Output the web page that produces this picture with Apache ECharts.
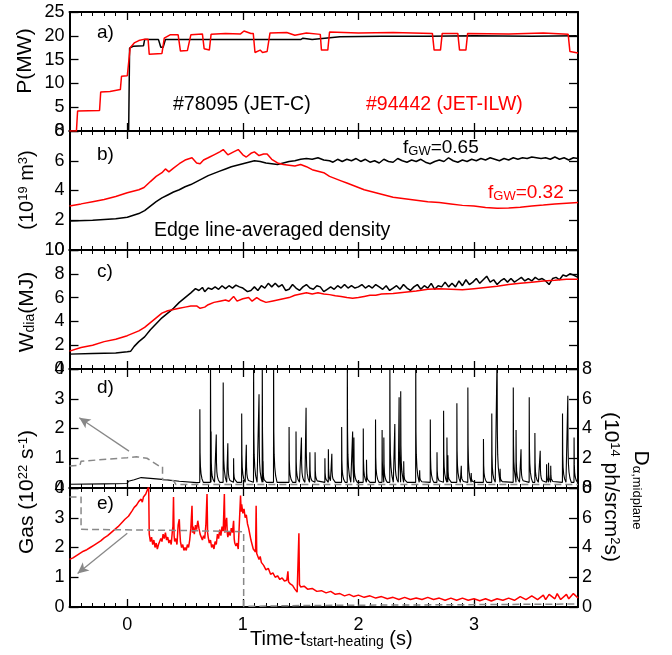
<!DOCTYPE html>
<html><head><meta charset="utf-8">
<script src="https://cdn.jsdelivr.net/npm/echarts@6/dist/echarts.min.js"></script>
<style>html,body{margin:0;padding:0;background:#fff}#c{width:672px;height:655px}</style>
</head><body><div id="c"></div>
<script>
const FONT = '"Liberation Sans", Arial, Helvetica, sans-serif';
const X_MIN = -0.5, X_MAX = 3.9;
const xTickLabels = [0, 1, 2, 3];
const xMinorTicks = [];
for (let k = -4; k <= 39; k++) { if (k % 10 !== 0) xMinorTicks.push(+(k / 10).toFixed(1)); }

// a) heating power P (MW)
const powerJETC = [[-0.5,0],[0.012,0],[0.02,17.4],[0.05,17.8],[0.14,17.9],[0.15,19.2],[0.27,19.2],[0.29,17.6],[0.31,17.6],[0.33,19.2],[0.8,19.2],[1.2,19.2],[1.5,19.2],[1.52,19.5],[1.53,19.2],[1.6,19.2],[1.84,19.8],[2.2,19.9],[2.6,19.9],[3.0,20.0],[3.5,19.9],[3.89,20.0]];
const powerJETILW = [[-0.5,0],[-0.44,0],[-0.43,4.2],[-0.24,4.3],[-0.23,8.2],[-0.15,8.3],[-0.14,8.7],[-0.06,8.7],[-0.05,11.5],[0.0,11.6],[0.025,17.5],[0.06,18.5],[0.1,19.0],[0.15,19.3],[0.18,19.3],[0.19,16.1],[0.3,16.3],[0.32,19.5],[0.37,20.2],[0.44,20.2],[0.46,16.8],[0.52,16.9],[0.55,20.2],[0.65,20.4],[0.665,17.3],[0.71,17.0],[0.725,20.3],[0.85,20.5],[0.98,20.4],[1.01,21.0],[1.07,20.5],[1.09,20.5],[1.105,16.5],[1.15,17.0],[1.17,16.5],[1.21,16.7],[1.235,20.6],[1.38,20.7],[1.45,20.1],[1.55,20.6],[1.67,20.3],[1.68,17.0],[1.735,17.0],[1.75,20.8],[2.0,20.6],[2.3,20.7],[2.64,20.5],[2.655,17.0],[2.71,17.0],[2.725,20.5],[2.86,20.5],[2.875,17.0],[2.93,17.0],[2.945,20.5],[3.3,20.4],[3.6,20.6],[3.815,20.3],[3.83,16.7],[3.9,16.4]];

// b) edge line-averaged density (1e19 m^-3)
const densJETC = [[-0.5,1.95],[-0.3,2.0],[-0.1,2.1],[0.0,2.2],[0.1,2.45],[0.15,2.65],[0.2,2.95],[0.25,3.25],[0.3,3.5],[0.35,3.7],[0.4,3.9],[0.45,4.05],[0.5,4.25],[0.55,4.4],[0.6,4.6],[0.65,4.8],[0.7,5.0],[0.75,5.15],[0.8,5.3],[0.85,5.45],[0.9,5.6],[0.95,5.7],[1.0,5.8],[1.05,5.9],[1.1,6.0],[1.15,5.95],[1.2,5.85],[1.25,5.8],[1.3,5.75],[1.35,5.85],[1.4,5.95],[1.45,6.0],[1.5,6.1],[1.55,6.15],[1.6,6.1],[1.65,6.2],[1.7,6.05],[1.75,6.0],[1.78,5.9],[1.82,6.1],[1.86,5.95],[1.9,6.1],[1.94,6.0],[1.98,6.15],[2.02,5.95],[2.06,6.1],[2.1,5.9],[2.14,6.0],[2.18,5.85],[2.22,6.1],[2.26,5.95],[2.3,5.9],[2.34,6.15],[2.38,6.0],[2.42,5.9],[2.46,6.05],[2.5,5.95],[2.54,6.1],[2.58,5.9],[2.62,5.8],[2.66,5.95],[2.7,6.05],[2.74,5.95],[2.78,6.2],[2.82,6.0],[2.86,5.9],[2.9,6.05],[2.94,5.95],[2.98,6.1],[3.02,6.0],[3.06,6.15],[3.1,6.05],[3.14,6.2],[3.18,6.1],[3.22,6.0],[3.26,6.15],[3.3,6.05],[3.34,6.2],[3.38,6.1],[3.42,6.2],[3.46,6.15],[3.5,6.25],[3.54,6.2],[3.58,6.15],[3.62,6.2],[3.66,6.1],[3.7,6.25],[3.74,6.1],[3.78,6.2],[3.82,6.05],[3.86,6.2],[3.9,6.15]];
const densJETILW = [[-0.5,2.96],[-0.4,3.1],[-0.3,3.25],[-0.2,3.4],[-0.1,3.6],[0.0,3.85],[0.1,4.05],[0.145,4.2],[0.2,4.6],[0.25,4.95],[0.3,5.2],[0.33,5.45],[0.36,5.25],[0.4,5.5],[0.45,5.8],[0.5,6.05],[0.56,6.2],[0.6,5.85],[0.63,5.8],[0.66,6.05],[0.7,6.2],[0.75,6.4],[0.8,6.6],[0.83,6.75],[0.87,6.4],[0.92,6.6],[0.96,6.75],[1.0,6.4],[1.03,6.25],[1.07,6.5],[1.1,6.6],[1.14,6.35],[1.18,6.45],[1.21,6.45],[1.25,6.1],[1.3,5.85],[1.35,5.75],[1.4,5.7],[1.45,5.65],[1.5,5.75],[1.55,5.6],[1.6,5.4],[1.65,5.3],[1.7,5.2],[1.75,4.95],[1.8,4.8],[1.85,4.65],[1.9,4.5],[1.95,4.35],[2.0,4.2],[2.05,4.05],[2.1,3.95],[2.15,3.85],[2.2,3.75],[2.25,3.65],[2.3,3.55],[2.4,3.45],[2.5,3.35],[2.6,3.25],[2.7,3.2],[2.8,3.1],[2.9,3.0],[3.0,2.95],[3.1,2.85],[3.2,2.8],[3.3,2.82],[3.4,2.88],[3.5,2.95],[3.6,3.02],[3.7,3.1],[3.8,3.15],[3.9,3.2]];

// c) diamagnetic energy W_dia (MJ)
const wdiaJETC = [[-0.5,1.25],[-0.3,1.3],[-0.1,1.35],[0.0,1.45],[0.03,1.5],[0.06,1.9],[0.1,2.3],[0.15,2.7],[0.2,3.3],[0.25,3.8],[0.3,4.3],[0.35,4.7],[0.4,5.1],[0.45,5.6],[0.5,6.0],[0.55,6.4],[0.59,6.75],[0.62,6.6],[0.65,6.85],[0.67,6.5],[0.7,6.8],[0.73,6.7],[0.76,6.9],[0.79,6.7],[0.82,7.0],[0.85,6.75],[0.88,7.0],[0.91,6.8],[0.94,7.05],[0.97,6.9],[1.0,6.8],[1.04,6.5],[1.07,6.6],[1.1,6.9],[1.13,6.6],[1.16,7.0],[1.19,6.8],[1.22,7.2],[1.25,6.9],[1.28,7.2],[1.31,6.9],[1.34,7.1],[1.37,6.6],[1.4,6.7],[1.43,7.1],[1.46,6.8],[1.49,6.6],[1.52,6.9],[1.55,7.1],[1.58,6.8],[1.61,6.7],[1.64,7.0],[1.67,6.9],[1.7,6.5],[1.73,6.7],[1.76,6.9],[1.79,6.7],[1.82,7.0],[1.85,6.8],[1.88,7.1],[1.91,6.8],[1.94,7.0],[1.97,6.8],[2.0,6.9],[2.03,7.1],[2.06,6.8],[2.09,7.0],[2.12,6.8],[2.15,7.1],[2.18,6.9],[2.21,6.7],[2.24,7.0],[2.27,6.6],[2.3,6.8],[2.33,7.0],[2.36,6.7],[2.39,7.1],[2.42,6.8],[2.45,6.6],[2.48,6.9],[2.51,7.1],[2.54,6.7],[2.57,7.0],[2.6,6.8],[2.63,7.2],[2.66,6.7],[2.69,7.0],[2.72,6.9],[2.75,7.3],[2.78,6.9],[2.81,7.2],[2.84,6.9],[2.87,7.4],[2.9,7.0],[2.93,7.5],[2.96,7.1],[2.99,7.3],[3.02,7.6],[3.05,7.2],[3.08,7.5],[3.11,7.8],[3.14,7.3],[3.17,7.5],[3.2,7.1],[3.23,7.4],[3.26,7.6],[3.29,7.3],[3.32,7.6],[3.35,7.3],[3.38,7.5],[3.41,7.7],[3.44,7.4],[3.47,7.6],[3.5,7.4],[3.53,7.7],[3.56,7.5],[3.59,7.6],[3.62,7.4],[3.65,7.1],[3.68,7.6],[3.71,7.7],[3.74,7.5],[3.77,7.9],[3.8,7.8],[3.83,8.0],[3.86,7.9],[3.9,7.7]];
const wdiaJETILW = [[-0.5,1.5],[-0.4,1.8],[-0.3,2.0],[-0.2,2.3],[-0.1,2.5],[0.0,2.8],[0.1,3.2],[0.15,3.5],[0.2,3.9],[0.25,4.3],[0.3,4.7],[0.35,4.9],[0.4,5.0],[0.45,5.1],[0.5,5.2],[0.55,5.3],[0.6,5.3],[0.63,5.1],[0.67,5.2],[0.7,5.4],[0.75,5.6],[0.8,5.7],[0.85,5.8],[0.88,5.7],[0.92,6.1],[0.95,5.7],[1.0,5.9],[1.05,6.0],[1.08,5.7],[1.12,6.0],[1.15,5.8],[1.2,5.6],[1.25,5.7],[1.3,5.8],[1.35,5.9],[1.4,6.0],[1.45,6.2],[1.5,6.3],[1.55,6.4],[1.6,6.3],[1.65,6.4],[1.7,6.3],[1.75,6.25],[1.8,6.15],[1.85,6.1],[1.9,6.0],[1.95,5.95],[2.0,6.0],[2.05,6.1],[2.1,6.2],[2.15,6.2],[2.2,6.3],[2.3,6.35],[2.4,6.45],[2.5,6.55],[2.6,6.7],[2.7,6.75],[2.8,6.7],[2.9,6.65],[3.0,6.75],[3.1,6.85],[3.2,6.95],[3.3,7.1],[3.4,7.2],[3.5,7.3],[3.6,7.4],[3.7,7.45],[3.8,7.55],[3.9,7.55]];

// d) JET-C: gas rate (1e22/s, left) and D-alpha (1e14, right)
const gasJETC = [[-0.5,0.74],[-0.41,0.76],[-0.4,0.9],[0.0,1.02],[0.08,1.05],[0.17,1.0],[0.28,0.73],[0.305,0.72],[0.305,0.28],[0.4,0.25],[0.42,0.12],[1.5,0.12],[3.9,0.12]];
const dalphaJETCPre = [[-0.5,0.25],[-0.2,0.28],[0.0,0.3],[0.01,0.45],[0.06,0.55],[0.12,0.7],[0.2,0.65],[0.3,0.58],[0.45,0.45],[0.6,0.36]];
const elmTimes = [0.628,0.72,0.725,0.77,0.83,0.87,0.92,0.99,1.03,1.093,1.14,1.168,1.175,1.266,1.40,1.46,1.507,1.547,1.58,1.625,1.71,1.74,1.77,1.855,1.904,1.95,1.961,2.042,2.07,2.148,2.205,2.22,2.272,2.315,2.352,2.366,2.392,2.496,2.53,2.622,2.68,2.737,2.766,2.774,2.852,2.89,2.947,2.976,3.082,3.154,3.2,3.226,3.34,3.364,3.407,3.478,3.527,3.573,3.628,3.645,3.664,3.766,3.812,3.866];
const elmPeaks = [5.3,9,3.8,3.6,7.1,3.0,2.0,5.0,2.9,9,6.3,9,1.8,9,4.1,3.8,3.4,5.4,2.4,2.4,2.0,2.6,2.3,4.1,9,3.8,3.4,4.0,1.9,4.6,3.9,3.4,9,4.3,6.1,6.5,1.8,9,1.2,4.6,2.4,5.2,3.4,2.2,5.7,1.5,6.75,1.0,3.3,5.0,9,1.3,6.75,3.9,2.6,6.1,3.7,2.5,1.6,1.7,1.5,5.0,6.2,3.4];
const elmBase = 0.38;
const elmDecayOffsets = [0.002, 0.005, 0.01, 0.018, 0.03];
const elmDecayFractions = [0.4, 0.22, 0.12, 0.05, 0.0];

// e) JET-ILW: gas rate (left) and D-alpha (right)
const gasJETILW = [[-0.5,3.7],[-0.4,3.7],[-0.4,2.61],[0.5,2.57],[1.007,2.53],[1.007,0.02],[1.5,0.05],[3.0,0.08],[3.9,0.1]];
const dalphaJETILW = [[-0.5,3.2],[-0.47,3.3],[-0.44,3.45],[-0.41,3.6],[-0.38,3.75],[-0.35,3.85],[-0.32,4.0],[-0.29,4.15],[-0.26,4.3],[-0.23,4.45],[-0.2,4.65],[-0.17,4.8],[-0.14,5.0],[-0.11,5.2],[-0.08,5.4],[-0.05,5.65],[-0.02,5.9],[0.01,6.1],[0.04,6.45],[0.06,6.7],[0.08,6.85],[0.1,7.1],[0.12,7.25],[0.13,7.05],[0.14,7.4],[0.15,7.3],[0.16,7.6],[0.17,7.8],[0.18,7.9],[0.185,8.1],[0.19,4.9],[0.2,4.4],[0.21,4.7],[0.22,4.2],[0.23,4.5],[0.24,4.0],[0.25,4.3],[0.26,3.9],[0.27,4.2],[0.28,4.1],[0.29,4.6],[0.3,4.4],[0.31,4.9],[0.32,4.6],[0.33,5.0],[0.34,4.5],[0.35,4.7],[0.36,4.3],[0.37,4.5],[0.38,4.2],[0.39,5.1],[0.395,5.4],[0.4,7.4],[0.405,4.8],[0.41,4.4],[0.42,4.6],[0.43,4.2],[0.44,5.5],[0.45,5.9],[0.455,5.0],[0.46,4.4],[0.47,4.0],[0.48,4.2],[0.49,3.8],[0.5,4.0],[0.51,3.8],[0.52,4.2],[0.53,4.0],[0.54,4.5],[0.55,5.3],[0.56,6.8],[0.565,5.0],[0.57,5.4],[0.58,4.9],[0.59,5.5],[0.6,5.2],[0.61,5.8],[0.62,5.3],[0.63,4.9],[0.64,5.0],[0.65,4.5],[0.66,4.8],[0.67,4.6],[0.68,5.5],[0.69,7.6],[0.695,5.0],[0.7,4.7],[0.71,4.3],[0.72,4.5],[0.73,4.0],[0.74,4.2],[0.75,3.9],[0.76,4.4],[0.77,4.2],[0.78,4.9],[0.79,4.6],[0.8,5.2],[0.81,4.8],[0.82,5.4],[0.83,5.1],[0.84,7.6],[0.845,5.0],[0.85,5.5],[0.86,6.0],[0.865,5.0],[0.87,4.7],[0.88,5.1],[0.89,4.8],[0.9,5.3],[0.91,5.0],[0.92,5.8],[0.925,4.6],[0.93,4.3],[0.94,4.1],[0.95,4.3],[0.96,3.9],[0.97,4.0],[0.975,3.8],[0.98,7.5],[0.985,6.4],[0.99,6.9],[1.0,6.3],[1.01,6.6],[1.02,6.0],[1.03,6.2],[1.04,5.6],[1.05,5.3],[1.06,4.9],[1.07,4.5],[1.08,4.2],[1.09,3.9],[1.1,4.0],[1.11,3.7],[1.115,6.8],[1.12,3.6],[1.13,3.5],[1.14,3.2],[1.15,3.4],[1.16,3.0],[1.17,3.1],[1.18,2.8],[1.19,2.9],[1.2,2.5],[1.22,2.6],[1.24,2.2],[1.26,2.3],[1.28,2.0],[1.3,2.1],[1.32,1.85],[1.34,1.95],[1.36,1.75],[1.38,1.8],[1.39,2.4],[1.395,1.7],[1.41,1.55],[1.43,1.45],[1.45,1.2],[1.47,1.0],[1.48,0.9],[1.485,4.95],[1.49,1.5],[1.5,1.35],[1.53,1.4],[1.56,1.2],[1.6,1.25],[1.64,1.05],[1.68,1.1],[1.72,0.95],[1.76,1.05],[1.8,0.85],[1.84,0.9],[1.88,0.75],[1.92,0.85],[1.96,0.7],[2.0,0.8],[2.05,0.65],[2.1,0.75],[2.15,0.6],[2.2,0.7],[2.25,0.55],[2.3,0.65],[2.35,0.5],[2.4,0.65],[2.45,0.5],[2.5,0.6],[2.55,0.5],[2.6,0.65],[2.65,0.5],[2.7,0.6],[2.75,0.45],[2.8,0.6],[2.85,0.45],[2.9,0.6],[2.95,0.45],[3.0,0.55],[3.05,0.42],[3.1,0.55],[3.15,0.4],[3.2,0.55],[3.25,0.45],[3.3,0.6],[3.35,0.45],[3.4,0.7],[3.45,0.5],[3.5,0.75],[3.55,0.5],[3.6,0.8],[3.62,0.5],[3.65,0.85],[3.7,0.55],[3.72,0.9],[3.75,0.5],[3.8,0.85],[3.82,0.55],[3.86,0.9],[3.9,0.6]];

// annotation arrows (data coords, left axis units): [from, to]
const arrowD = [[0.015,1.24],[-0.415,2.36]];
const arrowE = [[0.0,2.48],[-0.43,1.13]];

// build D-alpha ELM trace for JET-C from read spike times/peaks
const dalphaJETC = dalphaJETCPre.slice();
for (let i = 0; i < elmTimes.length; i++) {
  const t = elmTimes[i], p = elmPeaks[i];
  const next = i + 1 < elmTimes.length ? elmTimes[i + 1] : X_MAX + 1;
  dalphaJETC.push([t - 0.0008, elmBase]);
  dalphaJETC.push([t, p]);
  for (let k = 0; k < elmDecayOffsets.length; k++) {
    const tt = t + elmDecayOffsets[k];
    if (tt < next - 0.0012) dalphaJETC.push([tt, elmBase + (p - elmBase) * elmDecayFractions[k]]);
  }
}

const GRID_TOPS = [12, 131, 250, 369, 488], GH = 119, GL = 69.5, GR = 94;
const grid = GRID_TOPS.map(t => ({left: GL, right: GR, top: t, height: GH}));
const AX = {color: '#000', width: 2};
const xAxis = [];
GRID_TOPS.forEach((_, i) => {
  const base = {type: 'value', gridIndex: i, min: X_MIN, max: X_MAX, splitLine: {show: false}, axisLabel: {show: false}, axisLine: {show: false, onZero: false}};
  ['bottom', 'top'].forEach(pos => {
    xAxis.push(Object.assign({}, base, {position: pos,
      axisLine: {show: true, onZero: false, lineStyle: AX},
      axisTick: {show: true, inside: true, length: 8, customValues: xTickLabels, lineStyle: {color: '#000', width: 1.3}},
      axisLabel: {show: i === 4 && pos === 'bottom', customValues: xTickLabels, fontSize: 18, fontFamily: FONT, color: '#000', margin: 9}}));
    xAxis.push(Object.assign({}, base, {position: pos,
      axisTick: {show: true, inside: true, length: 4, customValues: xMinorTicks, lineStyle: {color: '#000', width: 1}}}));
  });
});
const ySpecs = [[0,25,5],[0,8,2],[0,10,2],[0,4,1],[0,4,1]];
const yRightSpecs = [null, null, null, [0,8,2], [0,8,2]];
const yAxis = [];
GRID_TOPS.forEach((_, i) => {
  const s = ySpecs[i];
  yAxis.push({type: 'value', gridIndex: i, position: 'left', min: s[0], max: s[1], interval: s[2], splitLine: {show: false},
    axisLine: {show: true, onZero: false, lineStyle: AX},
    axisTick: {show: true, inside: true, length: 9, lineStyle: {color: '#000', width: 1.3}},
    axisLabel: {show: true, fontSize: 18, fontFamily: FONT, color: '#000', margin: 5}});
  const r = yRightSpecs[i] || s;
  yAxis.push({type: 'value', gridIndex: i, position: 'right', min: r[0], max: r[1], interval: r[2], splitLine: {show: false},
    axisLine: {show: true, onZero: false, lineStyle: AX},
    axisTick: {show: true, inside: true, length: 9, lineStyle: {color: '#000', width: 1.3}},
    axisLabel: {show: !!yRightSpecs[i], fontSize: 18, fontFamily: FONT, color: '#000', margin: 4}});
});

function line(data, xi, yi, color, width, extra) {
  return Object.assign({type: 'line', data: data, xAxisIndex: xi, yAxisIndex: yi, showSymbol: false, symbol: 'none', silent: true,
    animation: false, lineStyle: {color: color, width: width}, itemStyle: {color: color}, z: 3}, extra || {});
}
function arrow(a) {
  return {silent: true, symbol: ['none', 'arrow'], symbolSize: [8, 11], animation: false, label: {show: false},
    lineStyle: {color: '#888', width: 1.3, type: 'solid'},
    data: [[{coord: a[0]}, {coord: a[1]}]]};
}
const series = [
  line(powerJETC, 0, 0, '#000', 1.5),
  line(powerJETILW, 0, 0, '#ff0000', 1.5),
  line(densJETC, 4, 2, '#000', 1.5),
  line(densJETILW, 4, 2, '#ff0000', 1.5),
  line(wdiaJETC, 8, 4, '#000', 1.5),
  line(wdiaJETILW, 8, 4, '#ff0000', 1.5),
  line(dalphaJETC, 12, 7, '#000', 1.1),
  line(gasJETC, 12, 6, '#888', 1.5, {lineStyle: {color: '#888', width: 1.5, type: [7, 4]}, z: 4, markLine: arrow(arrowD)}),
  line(dalphaJETILW, 16, 9, '#ff0000', 1.5),
  line(gasJETILW, 16, 8, '#888', 1.5, {lineStyle: {color: '#888', width: 1.5, type: [7, 4]}, z: 4, markLine: arrow(arrowE)})
];

function txt(x, y, text, size, color, opts) {
  return Object.assign({type: 'text', x: x, y: y, silent: true, z: 10,
    style: Object.assign({text: text, fill: color || '#000', fontSize: size, fontFamily: FONT,
      align: 'left', verticalAlign: 'middle'}, (opts && opts.style) || {})}, (opts && opts.el) || {});
}
const SUP = s => ({fontSize: s, fontFamily: FONT, verticalAlign: 'top', lineHeight: s});
const SUB = s => ({fontSize: s, fontFamily: FONT, verticalAlign: 'bottom', lineHeight: s - 4});
const graphic = [
  txt(97, 33, 'a)', 19), txt(97, 155, 'b)', 19), txt(97, 272, 'c)', 19), txt(97, 388, 'd)', 19), txt(97, 504, 'e)', 19),
  txt(173, 105, '#78095 (JET-C)', 19.5, '#000'),
  txt(366, 105, '#94442 (JET-ILW)', 19.5, '#ff0000'),
  txt(403, 148, 'f{s|GW}=0.65', 19, '#000', {style: {rich: {s: SUB(13)}}}),
  txt(488, 193, 'f{s|GW}=0.32', 19, '#ff0000', {style: {rich: {s: SUB(13)}}}),
  txt(154, 231, 'Edge line-averaged density', 19.5, '#000'),
  txt(250, 639, 'Time-t{s|start-heating} (s)', 20, '#000', {style: {rich: {s: SUB(14)}}}),
  txt(25, 61, 'P(MW)', 21, '#000', {style: {align: 'center'}, el: {rotation: Math.PI / 2}}),
  txt(27, 190, '(10{p|19} m{p|3})', 20, '#000', {style: {align: 'center', rich: {p: SUP(13)}}, el: {rotation: Math.PI / 2}}),
  txt(27, 312, 'W{s|dia}(MJ)', 21, '#000', {style: {align: 'center', rich: {s: SUB(14)}}, el: {rotation: Math.PI / 2}}),
  txt(27, 492, 'Gas (10{p|22} s{p|-1})', 21, '#000', {style: {align: 'center', rich: {p: SUP(13)}}, el: {rotation: Math.PI / 2}}),
  txt(641, 490, 'D{s|α,midplane}', 21, '#000', {style: {align: 'center', rich: {s: SUB(13)}}, el: {rotation: -Math.PI / 2}}),
  txt(611, 487, '(10{p|14} ph/srcm{p|2}s)', 21, '#000', {style: {align: 'center', rich: {p: SUP(13)}}, el: {rotation: -Math.PI / 2}})
];

const chart = echarts.init(document.getElementById('c'), null, {renderer: 'canvas'});
chart.setOption({
  animation: false,
  backgroundColor: '#fff',
  textStyle: {fontFamily: FONT},
  grid: grid, xAxis: xAxis, yAxis: yAxis, series: series, graphic: graphic
});
</script></body></html>
